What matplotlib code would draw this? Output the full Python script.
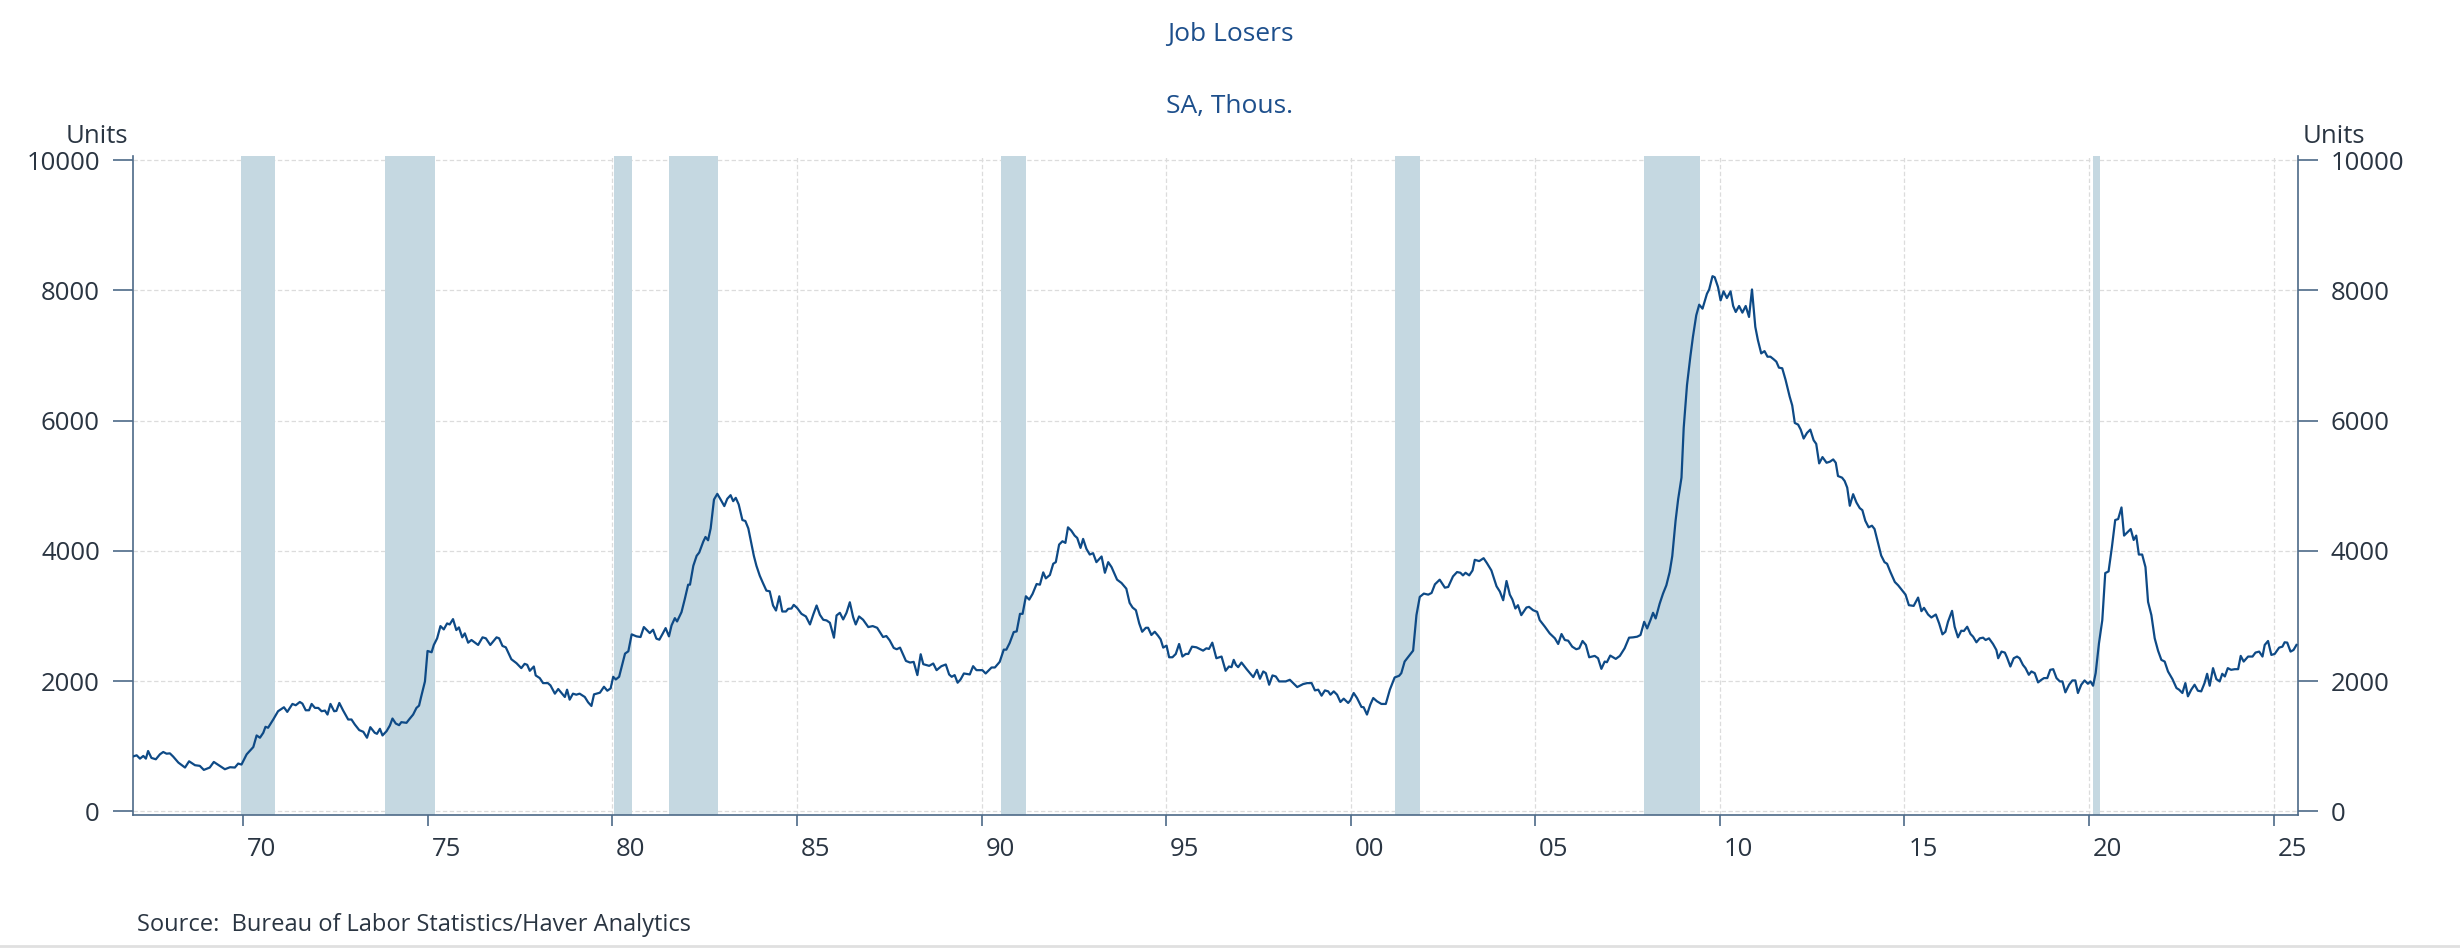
import matplotlib
matplotlib.use('Agg')
import matplotlib.pyplot as plt
import numpy as np

plt.rcParams['font.family'] = ['Open Sans', 'DejaVu Sans']

# Job losers, SA, thousands (decimal year, value)
seg_1967_1979 = [
    (1967.00, 840), (1967.11, 860), (1967.20, 809), (1967.29, 850), (1967.36, 809), (1967.42, 926),
    (1967.51, 820), (1967.63, 799), (1967.74, 875), (1967.83, 911), (1967.92, 885), (1968.01, 890),
    (1968.10, 840), (1968.24, 748), (1968.42, 672), (1968.53, 768), (1968.69, 708), (1968.82, 698),
    (1968.93, 636), (1969.09, 672), (1969.20, 758), (1969.32, 713), (1969.50, 646), (1969.64, 677),
    (1969.77, 672), (1969.86, 733), (1969.95, 718), (1970.09, 875), (1970.27, 987), (1970.36, 1165),
    (1970.45, 1130), (1970.54, 1206), (1970.60, 1298), (1970.67, 1283), (1970.81, 1410), (1970.94, 1537),
    (1971.10, 1598), (1971.19, 1527), (1971.33, 1649), (1971.42, 1629), (1971.53, 1679), (1971.60, 1654),
    (1971.69, 1552), (1971.78, 1552), (1971.85, 1649), (1971.94, 1588), (1972.03, 1588), (1972.12, 1537),
    (1972.21, 1547), (1972.28, 1486), (1972.36, 1649), (1972.46, 1537), (1972.52, 1542), (1972.60, 1664),
    (1972.70, 1552), (1972.84, 1410), (1972.93, 1410), (1973.02, 1333), (1973.14, 1247), (1973.25, 1221),
    (1973.35, 1130), (1973.44, 1292), (1973.56, 1206), (1973.62, 1190), (1973.70, 1267), (1973.77, 1165),
    (1973.88, 1231), (1973.97, 1318), (1974.04, 1425), (1974.13, 1348), (1974.22, 1323), (1974.28, 1369),
    (1974.42, 1359), (1974.49, 1410), (1974.60, 1486), (1974.69, 1588), (1974.76, 1623), (1974.82, 1766),
    (1974.92, 1995), (1974.99, 2463), (1975.10, 2443), (1975.16, 2555), (1975.25, 2657), (1975.34, 2845),
    (1975.43, 2794), (1975.52, 2886), (1975.59, 2870), (1975.68, 2952), (1975.77, 2784), (1975.84, 2825),
    (1975.93, 2672), (1976.00, 2733), (1976.09, 2590), (1976.18, 2631), (1976.36, 2555), (1976.48, 2672),
    (1976.57, 2657), (1976.69, 2555), (1976.86, 2672), (1976.93, 2657), (1977.02, 2540), (1977.11, 2519),
    (1977.26, 2336), (1977.40, 2275), (1977.53, 2199), (1977.62, 2265), (1977.69, 2250), (1977.76, 2158),
    (1977.87, 2224), (1977.92, 2087), (1978.03, 2046), (1978.12, 1969), (1978.25, 1969), (1978.32, 1934),
    (1978.44, 1807), (1978.53, 1878), (1978.71, 1756), (1978.77, 1868), (1978.84, 1715), (1978.93, 1807),
    (1979.02, 1791), (1979.11, 1807), (1979.25, 1756), (1979.34, 1674),
]
seg_1979_1991 = [
    (1979.43, 1618), (1979.50, 1796), (1979.66, 1822), (1979.77, 1913), (1979.86, 1852), (1979.95, 1888),
    (1980.02, 2066), (1980.09, 2025), (1980.18, 2066), (1980.34, 2422), (1980.43, 2458), (1980.52, 2718),
    (1980.65, 2687), (1980.76, 2677), (1980.85, 2830), (1981.01, 2738), (1981.10, 2789), (1981.19, 2652),
    (1981.27, 2636), (1981.36, 2728), (1981.44, 2814), (1981.53, 2687), (1981.60, 2855), (1981.69, 2967),
    (1981.75, 2916), (1981.87, 3059), (1981.96, 3262), (1982.05, 3481), (1982.10, 3481), (1982.19, 3771),
    (1982.28, 3924), (1982.35, 3975), (1982.46, 4143), (1982.52, 4214), (1982.59, 4163), (1982.66, 4346),
    (1982.75, 4789), (1982.84, 4876), (1982.93, 4789), (1983.03, 4688), (1983.11, 4800), (1983.20, 4856),
    (1983.27, 4764), (1983.34, 4815), (1983.42, 4713), (1983.52, 4474), (1983.60, 4459), (1983.68, 4346),
    (1983.74, 4178), (1983.83, 3924), (1983.90, 3771), (1983.99, 3619), (1984.08, 3502), (1984.17, 3390),
    (1984.26, 3379), (1984.35, 3161), (1984.43, 3084), (1984.52, 3303), (1984.60, 3069), (1984.70, 3069),
    (1984.76, 3110), (1984.85, 3115), (1984.91, 3171), (1985.00, 3125), (1985.12, 3033), (1985.24, 2993),
    (1985.35, 2870), (1985.44, 3023), (1985.53, 3161), (1985.62, 3018), (1985.71, 2942), (1985.80, 2932),
    (1985.89, 2896), (1986.00, 2667), (1986.07, 3008), (1986.16, 3049), (1986.25, 2947), (1986.34, 3049),
    (1986.43, 3211), (1986.52, 2982), (1986.59, 2870), (1986.68, 2993), (1986.79, 2942), (1986.93, 2830),
    (1987.05, 2845), (1987.17, 2819), (1987.33, 2677), (1987.42, 2692), (1987.51, 2626), (1987.62, 2509),
    (1987.70, 2489), (1987.79, 2514), (1987.95, 2310), (1988.06, 2285), (1988.16, 2295), (1988.26, 2092),
    (1988.35, 2412), (1988.42, 2260), (1988.58, 2234), (1988.69, 2270), (1988.78, 2168), (1988.91, 2229),
    (1989.03, 2255), (1989.12, 2102), (1989.19, 2066), (1989.27, 2092), (1989.35, 1975), (1989.43, 2025),
    (1989.52, 2117), (1989.68, 2102), (1989.77, 2229), (1989.86, 2168), (1990.02, 2168), (1990.11, 2117),
    (1990.27, 2209), (1990.36, 2209), (1990.49, 2295), (1990.60, 2483), (1990.67, 2483), (1990.76, 2585),
    (1990.87, 2753), (1990.95, 2763), (1991.04, 3033), (1991.11, 3033), (1991.20, 3303), (1991.29, 3252),
    (1991.38, 3339), (1991.49, 3491), (1991.58, 3481), (1991.67, 3670), (1991.74, 3578), (1991.85, 3630),
]
seg_1991_2004 = [
    (1991.94, 3802), (1992.01, 3827), (1992.10, 4097), (1992.19, 4148), (1992.27, 4123), (1992.34, 4362),
    (1992.43, 4311), (1992.52, 4235), (1992.59, 4199), (1992.68, 4046), (1992.75, 4184), (1992.84, 4031),
    (1992.93, 3944), (1993.02, 3965), (1993.11, 3827), (1993.25, 3914), (1993.34, 3664), (1993.43, 3827),
    (1993.52, 3751), (1993.67, 3558), (1993.79, 3507), (1993.92, 3420), (1994.01, 3201), (1994.09, 3130),
    (1994.18, 3089), (1994.27, 2886), (1994.35, 2758), (1994.45, 2819), (1994.51, 2819), (1994.60, 2708),
    (1994.69, 2758), (1994.78, 2697), (1994.85, 2641), (1994.92, 2514), (1995.01, 2545), (1995.08, 2366),
    (1995.17, 2366), (1995.26, 2417), (1995.35, 2570), (1995.44, 2377), (1995.53, 2417), (1995.60, 2417),
    (1995.70, 2529), (1995.82, 2519), (1996.00, 2468), (1996.09, 2504), (1996.16, 2494), (1996.25, 2590),
    (1996.36, 2351), (1996.50, 2377), (1996.61, 2158), (1996.70, 2224), (1996.77, 2214), (1996.83, 2326),
    (1996.89, 2249), (1996.95, 2214), (1997.04, 2285), (1997.18, 2183), (1997.27, 2122), (1997.36, 2061),
    (1997.46, 2173), (1997.54, 2036), (1997.63, 2148), (1997.70, 2122), (1997.79, 1944), (1997.88, 2087),
    (1997.97, 2071), (1998.06, 1995), (1998.24, 1995), (1998.35, 2020), (1998.55, 1908), (1998.71, 1954),
    (1998.82, 1969), (1998.94, 1969), (1999.03, 1857), (1999.12, 1868), (1999.21, 1776), (1999.30, 1857),
    (1999.39, 1842), (1999.45, 1791), (1999.54, 1842), (1999.63, 1791), (1999.72, 1679), (1999.81, 1730),
    (1999.93, 1664), (1999.99, 1705), (2000.08, 1817), (2000.17, 1740), (2000.29, 1603), (2000.35, 1598),
    (2000.44, 1486), (2000.53, 1639), (2000.61, 1740), (2000.71, 1690), (2000.83, 1649), (2000.95, 1649),
    (2001.06, 1868), (2001.19, 2056), (2001.31, 2081), (2001.37, 2122), (2001.46, 2300), (2001.55, 2366),
    (2001.69, 2468), (2001.78, 3013), (2001.87, 3293), (2001.98, 3344), (2002.10, 3328), (2002.19, 3354),
    (2002.28, 3486), (2002.41, 3558), (2002.55, 3435), (2002.64, 3446), (2002.77, 3608), (2002.88, 3675),
    (2002.97, 3664), (2003.04, 3624), (2003.11, 3664), (2003.21, 3624), (2003.30, 3700), (2003.36, 3863),
    (2003.48, 3843), (2003.60, 3888), (2003.69, 3812), (2003.81, 3700), (2003.95, 3456), (2004.04, 3375),
]
seg_2004_2014 = [
    (2004.13, 3242), (2004.22, 3537), (2004.31, 3328), (2004.38, 3252), (2004.46, 3115), (2004.53, 3166),
    (2004.62, 3013), (2004.76, 3130), (2004.83, 3140), (2004.94, 3089), (2005.05, 3064), (2005.12, 2937),
    (2005.26, 2835), (2005.39, 2733), (2005.53, 2657), (2005.62, 2570), (2005.71, 2723), (2005.80, 2631),
    (2005.89, 2621), (2006.00, 2529), (2006.11, 2489), (2006.19, 2504), (2006.28, 2616), (2006.37, 2555),
    (2006.46, 2366), (2006.61, 2387), (2006.70, 2351), (2006.79, 2188), (2006.88, 2300), (2006.94, 2290),
    (2007.03, 2392), (2007.18, 2341), (2007.29, 2387), (2007.42, 2504), (2007.54, 2667), (2007.65, 2672),
    (2007.76, 2682), (2007.85, 2708), (2007.95, 2911), (2008.03, 2809), (2008.12, 2937), (2008.19, 3049),
    (2008.26, 2962), (2008.37, 3191), (2008.46, 3344), (2008.55, 3471), (2008.64, 3675), (2008.71, 3919),
    (2008.80, 4463), (2008.87, 4794), (2008.96, 5125), (2009.02, 5889), (2009.11, 6550), (2009.20, 6983),
    (2009.27, 7288), (2009.36, 7619), (2009.44, 7782), (2009.53, 7721), (2009.59, 7833), (2009.65, 7950),
    (2009.71, 8016), (2009.80, 8220), (2009.86, 8204), (2009.95, 8052), (2010.02, 7848), (2010.10, 7986),
    (2010.19, 7884), (2010.29, 7986), (2010.36, 7762), (2010.43, 7670), (2010.52, 7762), (2010.61, 7660),
    (2010.70, 7762), (2010.79, 7594), (2010.87, 8016), (2010.96, 7441), (2011.03, 7238), (2011.12, 7034),
    (2011.21, 7069), (2011.29, 6983), (2011.37, 6983), (2011.46, 6942), (2011.53, 6907), (2011.60, 6815),
    (2011.69, 6805), (2011.78, 6627), (2011.89, 6372), (2011.96, 6235), (2012.03, 5965), (2012.12, 5940),
    (2012.19, 5863), (2012.27, 5726), (2012.36, 5812), (2012.45, 5863), (2012.54, 5700), (2012.61, 5644),
    (2012.69, 5344), (2012.78, 5441), (2012.89, 5354), (2012.98, 5370), (2013.07, 5405), (2013.14, 5354),
    (2013.20, 5150), (2013.31, 5125), (2013.38, 5074), (2013.45, 4972), (2013.52, 4693), (2013.61, 4871),
    (2013.70, 4743), (2013.79, 4657), (2013.86, 4626), (2013.94, 4463), (2014.03, 4362), (2014.12, 4387),
    (2014.19, 4336), (2014.28, 4133), (2014.37, 3929), (2014.46, 3827), (2014.53, 3802), (2014.62, 3675),
    (2014.74, 3522), (2014.83, 3471),
]
seg_2015_2025 = [
    (2015.03, 3328), (2015.12, 3166), (2015.25, 3155), (2015.37, 3283), (2015.46, 3074), (2015.53, 3125),
    (2015.64, 3023), (2015.73, 2977), (2015.85, 3023), (2015.94, 2886), (2016.03, 2718), (2016.11, 2758),
    (2016.18, 2911), (2016.29, 3079), (2016.36, 2835), (2016.45, 2672), (2016.54, 2774), (2016.61, 2769),
    (2016.70, 2835), (2016.79, 2723), (2016.86, 2682), (2016.95, 2596), (2017.04, 2657), (2017.13, 2667),
    (2017.20, 2631), (2017.29, 2657), (2017.40, 2570), (2017.49, 2478), (2017.54, 2351), (2017.63, 2453),
    (2017.72, 2438), (2017.78, 2361), (2017.87, 2224), (2017.96, 2351), (2018.05, 2377), (2018.12, 2351),
    (2018.21, 2249), (2018.28, 2199), (2018.37, 2097), (2018.44, 2148), (2018.53, 2122), (2018.62, 1980),
    (2018.71, 2020), (2018.78, 2046), (2018.87, 2046), (2018.95, 2173), (2019.03, 2183), (2019.12, 2046),
    (2019.21, 1995), (2019.28, 1995), (2019.36, 1827), (2019.46, 1944), (2019.55, 2010), (2019.63, 2010),
    (2019.70, 1817), (2019.79, 1944), (2019.88, 2010), (2019.97, 1959), (2020.04, 1995), (2020.11, 1929),
    (2020.18, 2122), (2020.27, 2580), (2020.36, 2937), (2020.44, 3659), (2020.53, 3685), (2020.62, 4056),
    (2020.71, 4474), (2020.79, 4489), (2020.88, 4667), (2020.95, 4235), (2021.04, 4286), (2021.13, 4336),
    (2021.21, 4168), (2021.28, 4235), (2021.35, 3944), (2021.44, 3944), (2021.53, 3751), (2021.60, 3217),
    (2021.69, 3013), (2021.78, 2657), (2021.87, 2468), (2021.96, 2326), (2022.05, 2300), (2022.14, 2148),
    (2022.26, 2031), (2022.37, 1893), (2022.44, 1868), (2022.53, 1817), (2022.61, 1969), (2022.68, 1766),
    (2022.77, 1868), (2022.86, 1944), (2022.95, 1852), (2023.04, 1842), (2023.13, 1969), (2023.20, 2112),
    (2023.27, 1929), (2023.36, 2199), (2023.45, 2031), (2023.54, 1995), (2023.61, 2112), (2023.68, 2071),
    (2023.76, 2199), (2023.85, 2173), (2023.95, 2183), (2024.04, 2183), (2024.11, 2387), (2024.19, 2300),
    (2024.31, 2377), (2024.43, 2377), (2024.51, 2438), (2024.61, 2453), (2024.70, 2377), (2024.76, 2555),
    (2024.85, 2616), (2024.94, 2402), (2025.03, 2417), (2025.15, 2514), (2025.24, 2529), (2025.30, 2596),
    (2025.37, 2591), (2025.46, 2453), (2025.54, 2478), (2025.62, 2555),
]

# NBER recessions (start, end) in decimal years
recessions = [(1969.95, 1970.86), (1973.85, 1975.19), (1980.03, 1980.53), (1981.52, 1982.86),
              (1990.52, 1991.20), (2001.20, 2001.88), (2007.95, 2009.45), (2020.12, 2020.29)]

x_ticks = list(range(1970, 2030, 5))
x_labels = ['70', '75', '80', '85', '90', '95', '00', '05', '10', '15', '20', '25']
y_ticks = [0, 2000, 4000, 6000, 8000, 10000]

title = 'Job Losers'
subtitle = 'SA, Thous.'
source = 'Source:  Bureau of Labor Statistics/Haver Analytics'

# colours
line_col = '#0e4a86'
shade_col = '#c5d8e1'
axis_col = '#4d6a88'
text_col = '#2a3542'
title_col = '#1d4f8c'
grid_col = '#dcdcdc'

pts = seg_1967_1979 + seg_1979_1991 + seg_1991_2004 + seg_2004_2014 + seg_2015_2025
xs = np.array([p[0] for p in pts])
ys = np.array([p[1] for p in pts])

W, H = 2460, 948
fig = plt.figure(figsize=(W / 100, H / 100), dpi=100)
ax = fig.add_axes([132.6 / W, 1 - 815 / H, (2298.3 - 132.6) / W, (815 - 156) / H])

for s, e in recessions:
    ax.axvspan(s, e, color=shade_col, lw=0, zorder=1)

ax.plot(xs, ys, color=line_col, lw=1.6, zorder=3)

ax.set_xlim(1967.0, 2025.67)
ax.set_ylim(-57, 10066)

# grid
for yv in y_ticks:
    ax.axhline(yv, color=grid_col, lw=0.9, ls=(0, (3.5, 2)), zorder=0)
for xv in x_ticks:
    ax.axvline(xv, color=grid_col, lw=0.9, ls=(0, (3.5, 2)), zorder=0)

# spines
ax.spines['top'].set_visible(False)
for k in ['left', 'right', 'bottom']:
    ax.spines[k].set_color(axis_col)
    ax.spines[k].set_linewidth(1.2)

# y ticks on both sides
ax.set_yticks(y_ticks)
ax.set_yticklabels([str(v) for v in y_ticks])
ax.yaxis.set_ticks_position('both')
ax.tick_params(axis='y', which='major', direction='out', length=14.5, width=1.2, color=axis_col,
               labelsize=18.5, labelcolor=text_col, pad=9, labelleft=True, labelright=True)

# x ticks at years, labels centered mid-year
ax.set_xticks(x_ticks)
ax.set_xticklabels([''] * len(x_ticks))
ax.set_xticks([x + 0.5 for x in x_ticks], minor=True)
ax.set_xticklabels(x_labels, minor=True)
ax.tick_params(axis='x', which='major', direction='out', length=8, width=1.2, color=axis_col)
ax.tick_params(axis='x', which='minor', length=0, labelsize=18.5, labelcolor=text_col, pad=16)

# titles and labels
fig.text(1230 / W, 1 - 35 / H, title, ha='center', va='center', fontsize=19, color=title_col)
fig.text(1230 / W, 1 - 107 / H, subtitle, ha='center', va='center', fontsize=19, color=title_col)
fig.text(128 / W, 1 - 143 / H, 'Units', ha='right', va='baseline', fontsize=18.5, color=text_col)
fig.text(2303 / W, 1 - 143 / H, 'Units', ha='left', va='baseline', fontsize=18.5, color=text_col)
fig.text(137 / W, 1 - 931 / H, source, ha='left', va='baseline', fontsize=17, color=text_col)

# thin frame line at the very bottom
fig.add_artist(plt.Line2D([0, 1], [1 - 946 / H, 1 - 946 / H], transform=fig.transFigure,
                          color='#e0e0e0', lw=2))

fig.savefig('out.png', dpi=100)
